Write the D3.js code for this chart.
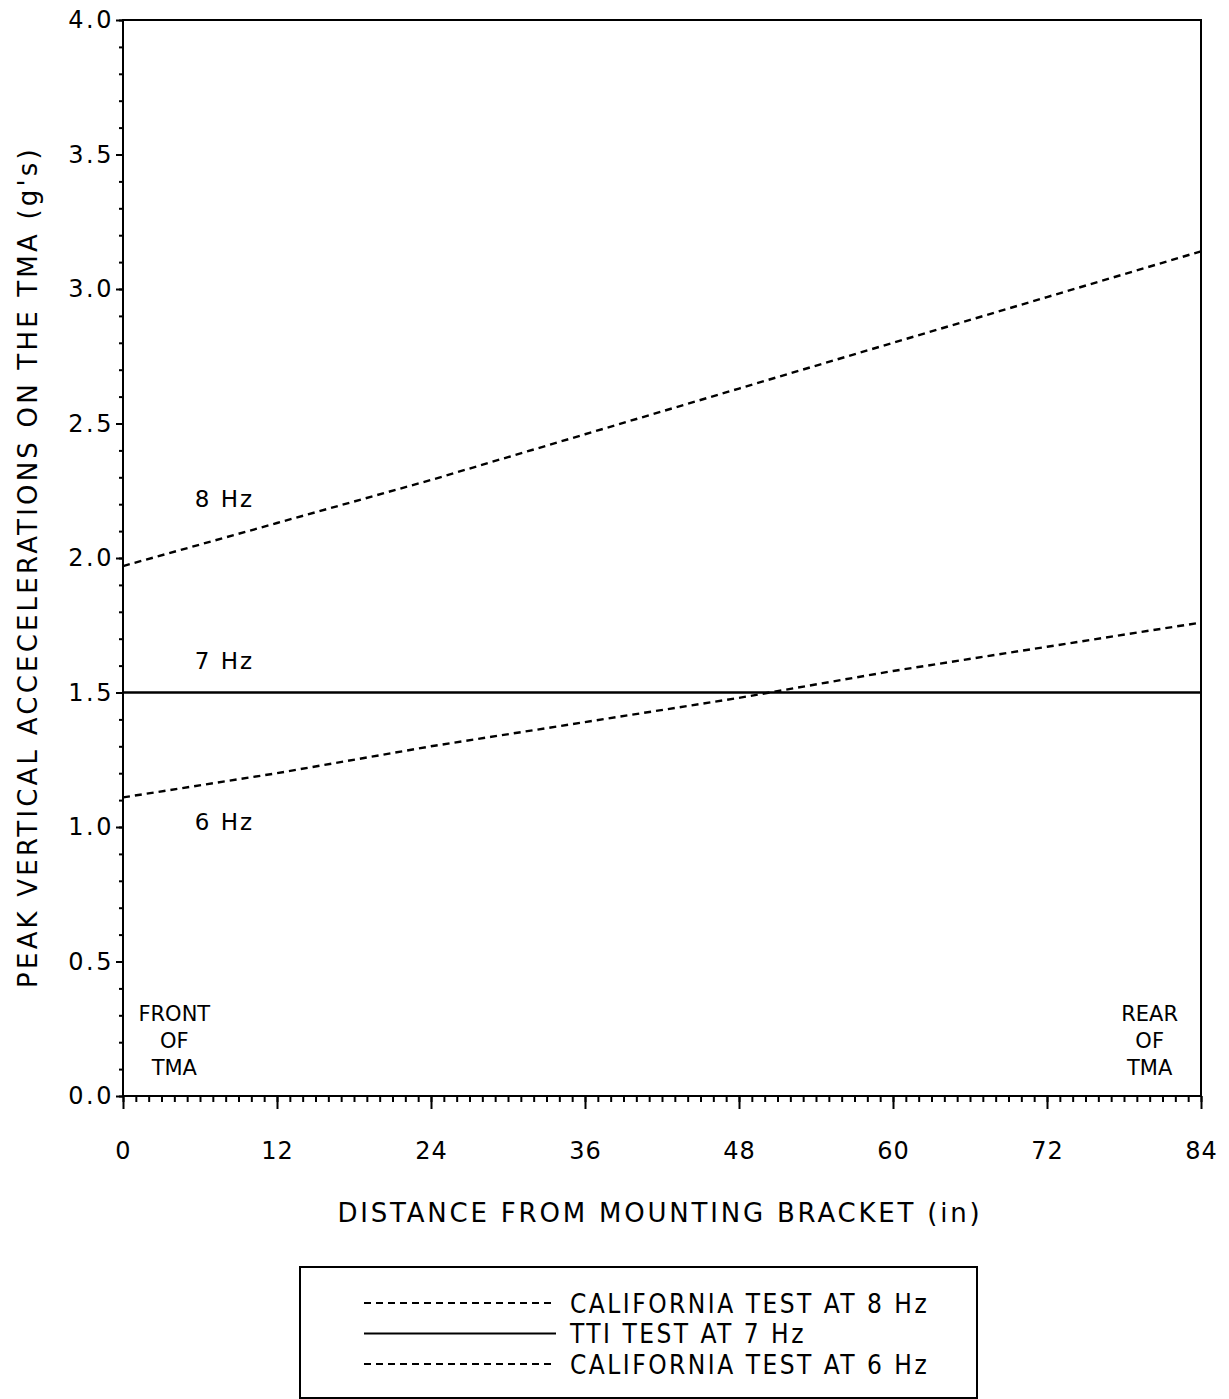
<!DOCTYPE html>
<html><head><meta charset="utf-8">
<script src="https://cdn.jsdelivr.net/npm/d3@7"></script>
<style>
body{margin:0;background:#fff;}
text{font-family:"DejaVu Sans Condensed","DejaVu Sans",sans-serif;fill:#000;}
</style></head>
<body><svg id="c" width="1229" height="1399"></svg>
<script>
const distances = [0, 12, 24, 36, 48, 60, 72, 84];
const cal8Hz = [1.97, 2.13, 2.29, 2.46, 2.63, 2.80, 2.97, 3.14];
const tti7Hz = [1.5, 1.5, 1.5, 1.5, 1.5, 1.5, 1.5, 1.5];
const cal6Hz = [1.11, 1.20, 1.30, 1.39, 1.48, 1.58, 1.67, 1.76];
const xTicks = [0, 12, 24, 36, 48, 60, 72, 84];
const yTicks = [0, 0.5, 1.0, 1.5, 2.0, 2.5, 3.0, 3.5, 4.0];
const seriesNames = ["CALIFORNIA TEST AT 8 Hz", "TTI TEST AT 7 Hz", "CALIFORNIA TEST AT 6 Hz"];
const lineLabels = ["8 Hz", "7 Hz", "6 Hz"];
const xTitle = "DISTANCE FROM MOUNTING BRACKET  (in)";
const yTitle = "PEAK VERTICAL ACCECELERATIONS ON THE TMA  (g's)";

const svg = d3.select("#c");
const L = 123, R = 1201, T = 20, B = 1096;
const x = d3.scaleLinear().domain([0, 84]).range([L, R]);
const y = d3.scaleLinear().domain([0, 4]).range([B, T]);
const plain = "'DejaVu Sans',sans-serif";

// frame
svg.append("rect").attr("x", L).attr("y", T).attr("width", R - L).attr("height", B - T)
  .attr("fill", "none").attr("stroke", "#000").attr("stroke-width", 2);

// x axis: minor ticks every inch
const xAx = svg.append("g").attr("transform", `translate(0,${B})`);
xAx.call(d3.axisBottom(x).tickValues(d3.range(0, 85, 1)).tickSize(6).tickFormat(""));
xAx.append("g").call(d3.axisBottom(x).tickValues(xTicks).tickSize(13).tickFormat(d3.format("d")));
xAx.selectAll(".domain").remove();
xAx.selectAll("line").attr("stroke", "#000").attr("stroke-width", 2);
xAx.selectAll("text").attr("font-size", 24).attr("dy", "1.95em").attr("letter-spacing", 1)
  .style("font-family", plain);

// y axis: minor ticks every 0.1
const yAx = svg.append("g").attr("transform", `translate(${L},0)`);
yAx.call(d3.axisLeft(y).tickValues(d3.range(0, 41).map(d => d / 10)).tickSize(4).tickFormat(""));
yAx.append("g").call(d3.axisLeft(y).tickValues(yTicks).tickSize(7).tickFormat(d3.format(".1f")));
yAx.selectAll(".domain").remove();
yAx.selectAll("line").attr("stroke", "#000").attr("stroke-width", 2);
yAx.selectAll("text").attr("font-size", 24).attr("letter-spacing", 2.5).attr("dx", 1)
  .style("font-family", plain);

// axis titles
svg.append("text").attr("x", 660).attr("y", 1222).attr("text-anchor", "middle")
  .attr("font-size", 26).attr("letter-spacing", 2.8).style("font-family", plain).text(xTitle);
svg.append("text").attr("transform", `translate(37,567) rotate(-90)`).attr("text-anchor", "middle")
  .attr("font-size", 26).attr("letter-spacing", 3.2).style("font-family", plain).text(yTitle);

// lines
const line = d3.line().x((d, i) => x(distances[i])).y(d => y(d));
const series = [cal8Hz, tti7Hz, cal6Hz];
const dashes = ["7,5", null, "7,5"];
series.forEach((s, i) => {
  svg.append("path").datum(s).attr("d", line).attr("fill", "none").attr("stroke", "#000")
    .attr("stroke-width", 2.4).attr("stroke-dasharray", dashes[i]);
});

// line labels
const labelVals = [2.22, 1.62, 1.02];
lineLabels.forEach((t, i) => {
  svg.append("text").attr("x", x(5.6)).attr("y", y(labelVals[i])).attr("dy", "0.36em")
    .attr("font-size", 23).attr("letter-spacing", 2).style("font-family", plain).text(t);
});

// front / rear labels
const fr = [["FRONT", "OF", "TMA"], ["REAR", "OF", "TMA"]];
[[x(4), fr[0]], [x(80), fr[1]]].forEach(([cx, lines]) => {
  lines.forEach((t, j) => {
    svg.append("text").attr("x", cx).attr("y", 1021 + j * 27).attr("text-anchor", "middle")
      .attr("font-size", 21).style("font-family", plain).text(t);
  });
});

// legend
svg.append("rect").attr("x", 300).attr("y", 1267).attr("width", 677).attr("height", 131)
  .attr("fill", "none").attr("stroke", "#000").attr("stroke-width", 2);
seriesNames.forEach((n, i) => {
  const ly = 1303 + i * 30.5;
  svg.append("line").attr("x1", 364).attr("x2", 556).attr("y1", ly).attr("y2", ly)
    .attr("stroke", "#000").attr("stroke-width", 2.2).attr("stroke-dasharray", dashes[i]);
  svg.append("text").attr("x", 570).attr("y", ly).attr("dy", "0.38em")
    .attr("font-size", 26).attr("letter-spacing", 2.5).text(n);
});
</script></body></html>
